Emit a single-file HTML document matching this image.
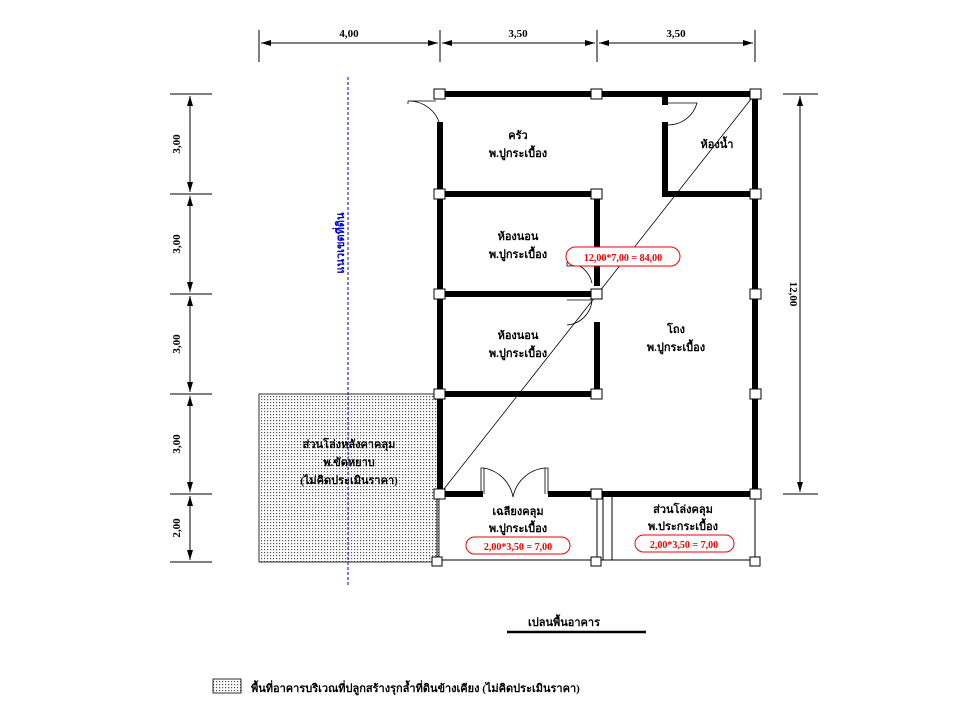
<!DOCTYPE html>
<html><head><meta charset="utf-8"><style>body{margin:0;background:#fff}svg{display:block}
text{font-family:"Liberation Serif","Noto Serif CJK SC","Noto Sans CJK SC",serif;font-weight:bold;fill:#000}</style></head>
<body>
<svg width="960" height="720" viewBox="0 0 960 720">
<defs>
<pattern id="dots" width="3" height="3" patternUnits="userSpaceOnUse"><rect width="3" height="3" fill="#fff"/><rect width="1.2" height="1.2" fill="#555"/></pattern>
<marker id="ar" viewBox="0 0 10 6" refX="10" refY="3" markerWidth="10" markerHeight="6" orient="auto-start-reverse"><path d="M0,0L10,3L0,6z" fill="#000"/></marker>
</defs>
<!-- top dims -->
<g stroke="#000" stroke-width="1">
<line x1="259" y1="30" x2="259" y2="62"/><line x1="440" y1="30" x2="440" y2="62"/><line x1="597" y1="30" x2="597" y2="62"/><line x1="755" y1="30" x2="755" y2="62"/>
<line x1="261" y1="43" x2="438" y2="43" marker-start="url(#ar)" marker-end="url(#ar)"/>
<line x1="442" y1="43" x2="595" y2="43" marker-start="url(#ar)" marker-end="url(#ar)"/>
<line x1="599" y1="43" x2="753" y2="43" marker-start="url(#ar)" marker-end="url(#ar)"/>
<!-- left dims -->
<line x1="170" y1="94" x2="212" y2="94"/><line x1="170" y1="194" x2="212" y2="194"/><line x1="170" y1="294" x2="212" y2="294"/><line x1="170" y1="394" x2="212" y2="394"/><line x1="170" y1="494" x2="212" y2="494"/><line x1="170" y1="562" x2="212" y2="562"/>
<line x1="190" y1="96" x2="190" y2="192" marker-start="url(#ar)" marker-end="url(#ar)"/>
<line x1="190" y1="196" x2="190" y2="292" marker-start="url(#ar)" marker-end="url(#ar)"/>
<line x1="190" y1="296" x2="190" y2="392" marker-start="url(#ar)" marker-end="url(#ar)"/>
<line x1="190" y1="396" x2="190" y2="492" marker-start="url(#ar)" marker-end="url(#ar)"/>
<line x1="190" y1="496" x2="190" y2="560" marker-start="url(#ar)" marker-end="url(#ar)"/>
<!-- right dim -->
<line x1="783" y1="94" x2="818" y2="94"/><line x1="783" y1="494" x2="818" y2="494"/>
<line x1="800" y1="96" x2="800" y2="492" marker-start="url(#ar)" marker-end="url(#ar)"/>
</g>
<g font-size="11">
<text x="349" y="37" text-anchor="middle">4,00</text>
<text x="518" y="37" text-anchor="middle">3,50</text>
<text x="676" y="37" text-anchor="middle">3,50</text>
<text transform="translate(180,144) rotate(-90)" text-anchor="middle">3,00</text>
<text transform="translate(180,244) rotate(-90)" text-anchor="middle">3,00</text>
<text transform="translate(180,344) rotate(-90)" text-anchor="middle">3,00</text>
<text transform="translate(180,444) rotate(-90)" text-anchor="middle">3,00</text>
<text transform="translate(180,528) rotate(-90)" text-anchor="middle">2,00</text>
<text transform="translate(790,294) rotate(90)" text-anchor="middle">12,00</text>
</g>
<!-- hatched -->
<rect x="259" y="394" width="180" height="168" fill="url(#dots)" stroke="#000" stroke-width="0.8"/>
<!-- blue line -->
<line x1="348" y1="77" x2="348" y2="585" stroke="#00c" stroke-width="1" stroke-dasharray="3,2"/>
<text transform="translate(344,243) rotate(-90)" text-anchor="middle" font-size="11" style="fill:#00c">แนวเขตที่ดิน</text>
<!-- porch thin lines -->
<g stroke="#000" stroke-width="1" fill="none">
<line x1="437" y1="494" x2="437" y2="562"/><line x1="437" y1="560" x2="755" y2="560"/>
<line x1="597" y1="494" x2="597" y2="560"/><line x1="603" y1="494" x2="603" y2="560"/><line x1="612" y1="494" x2="612" y2="560"/>
<line x1="755" y1="494" x2="755" y2="560"/>
</g>
<!-- thick walls -->
<g stroke="#000" stroke-width="6" fill="none" stroke-linecap="square">
<line x1="440" y1="94" x2="755" y2="94"/>
<line x1="755" y1="94" x2="755" y2="494"/>
<line x1="440" y1="125" x2="440" y2="494"/>
<line x1="440" y1="494" x2="480" y2="494"/><line x1="551" y1="494" x2="755" y2="494"/>
<line x1="440" y1="194" x2="597" y2="194"/><line x1="597" y1="194" x2="597" y2="283"/>
<line x1="440" y1="294" x2="597" y2="294"/>
<line x1="597" y1="325" x2="597" y2="394"/><line x1="440" y1="394" x2="597" y2="394"/>
<line x1="665" y1="125" x2="665" y2="194"/><line x1="665" y1="194" x2="755" y2="194"/>
<line x1="665" y1="96" x2="665" y2="102"/>
</g>
<!-- doors -->
<g stroke="#000" stroke-width="0.8" fill="none">
<path d="M440,125 A32,32 0 0 0 408,101 L436,101"/><line x1="408" y1="101" x2="408" y2="104"/>
<path d="M667,125 A30,30 0 0 0 697,103 L667,103"/>
<path d="M592,283 A27,27 0 0 0 567,262"/><path d="M567,262 V266 H592"/>
<path d="M592,300 A27,27 0 0 1 567,325"/><path d="M567,300 H592"/>
<path d="M481,494 V468 H484 A36,36 0 0 1 513,497 A36,36 0 0 1 545,468 H548 V494"/>
<line x1="484" y1="468" x2="484" y2="494"/><line x1="545" y1="468" x2="545" y2="494"/>
</g>
<!-- diagonal -->
<line x1="755" y1="94" x2="440" y2="494" stroke="#000" stroke-width="0.8"/>
<!-- columns -->
<g fill="#fff" stroke="#000" stroke-width="1">
<rect x="434" y="89" width="11" height="10"/><rect x="591" y="89" width="11" height="10"/><rect x="750" y="89" width="11" height="10"/>
<rect x="434" y="189" width="11" height="10"/><rect x="591" y="189" width="11" height="10"/><rect x="750" y="189" width="11" height="10"/>
<rect x="434" y="289" width="11" height="10"/><rect x="591" y="289" width="11" height="10"/><rect x="750" y="289" width="11" height="10"/>
<rect x="434" y="389" width="11" height="10"/><rect x="591" y="389" width="11" height="10"/><rect x="750" y="389" width="11" height="10"/>
<rect x="434" y="489" width="11" height="10"/><rect x="591" y="489" width="11" height="10"/><rect x="750" y="489" width="11" height="10"/>
<rect x="432" y="557" width="10" height="9"/><rect x="591" y="557" width="10" height="9"/><rect x="750" y="557" width="10" height="9"/>
</g>
<!-- labels -->
<g font-size="11" text-anchor="middle">
<text x="518" y="139">ครัว</text><text x="518" y="157">พ.ปูกระเบื้อง</text>
<text x="717" y="148">ห้องน้ำ</text>
<text x="518" y="240">ห้องนอน</text><text x="518" y="258">พ.ปูกระเบื้อง</text>
<text x="518" y="339">ห้องนอน</text><text x="518" y="357">พ.ปูกระเบื้อง</text>
<text x="676" y="333">โถง</text><text x="676" y="351">พ.ปูกระเบื้อง</text>
<text x="349" y="448">ส่วนโล่งหลังคาคลุม</text><text x="349" y="466">พ.ขัดหยาบ</text><text x="349" y="484">(ไม่คิดประเมินราคา)</text>
<text x="518" y="515">เฉลียงคลุม</text><text x="518" y="532">พ.ปูกระเบื้อง</text>
<text x="683" y="513">ส่วนโล่งคลุม</text><text x="683" y="530">พ.ประกระเบื้อง</text>
</g>
<g font-size="10" text-anchor="middle">
<rect x="566" y="247" width="114" height="19" rx="9.5" fill="#fff" stroke="#e00" stroke-width="1"/>
<text x="623" y="261" style="fill:#e00">12,00*7,00 = 84,00</text>
<rect x="466" y="537" width="104" height="17" rx="8.5" fill="#fff" stroke="#e00" stroke-width="1"/>
<text x="518" y="550" style="fill:#e00">2,00*3,50 = 7,00</text>
<rect x="635" y="535" width="99" height="17" rx="8.5" fill="#fff" stroke="#e00" stroke-width="1"/>
<text x="684" y="548" style="fill:#e00">2,00*3,50 = 7,00</text>
</g>
<!-- title -->
<text x="564" y="626" font-size="11" text-anchor="middle">เปลนพื้นอาคาร</text>
<line x1="507" y1="632" x2="646" y2="632" stroke="#000" stroke-width="2.5"/>
<rect x="213" y="679" width="28" height="14" fill="url(#dots)" stroke="#000" stroke-width="0.8"/>
<text x="251" y="692" font-size="11">พื้นที่อาคารบริเวณที่ปลูกสร้างรุกล้ำที่ดินข้างเคียง (ไม่คิดประเมินราคา)</text>
</svg>
</body></html>
